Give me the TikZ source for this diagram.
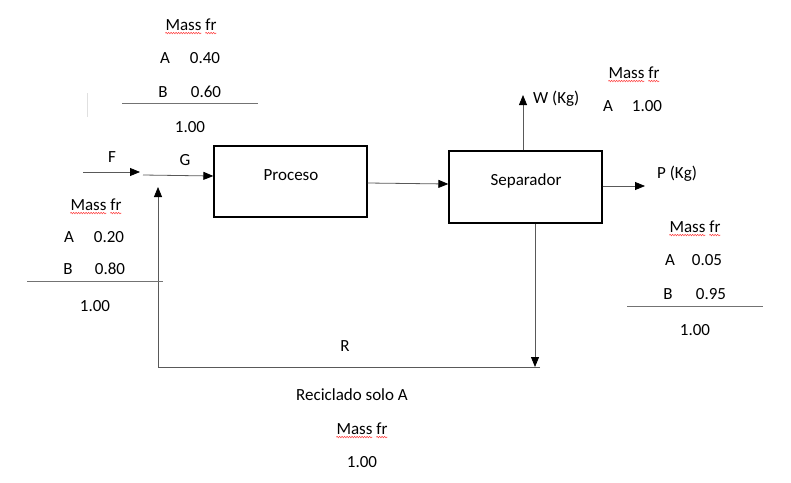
\documentclass[tikz,border=0pt]{standalone}
\usepackage{fontspec}
\setmainfont{Carlito}
\usetikzlibrary{arrows.meta,decorations.pathmorphing}
\begin{document}
\begin{tikzpicture}[x=1pt,y=-1pt,
 txt/.style={inner sep=0pt,font=\fontsize{17}{20}\selectfont,text=black},
 unitbox/.style={draw=black,line width=1.3pt,inner sep=0pt},
 flow/.style={draw=black!65,line width=0.8pt,-{Triangle[length=10pt,width=8pt,color=black]}},
 plain/.style={draw=black!65,line width=0.8pt},
 rulel/.style={draw=black!55,line width=0.7pt},
 spell/.style={draw=red!80,line width=0.5pt,decorate,decoration={snake,amplitude=0.7pt,segment length=2.5pt}}]
\useasboundingbox (0,0) rectangle (791,482);
% units
\node[unitbox,minimum width=153pt,minimum height=71pt] (proc) at (290.5,181.5) {};
\node[txt] (proct) at (291,175) {Proceso};
\node[unitbox,minimum width=153pt,minimum height=72pt] (sep) at (525.5,187) {};
\node[txt] (sept) at (526,181) {Separador};
% coordinates
\coordinate (fs) at (83,172);
\coordinate (fe) at (140,172);
\coordinate (gs) at (143,175);
\coordinate (wt) at (523,95);
\coordinate (pt) at (645,186);
\coordinate (rb) at (535,367);
\coordinate (rr) at (540,367);
\coordinate (rl) at (158,367);
\coordinate (rt) at (158,187);
% connectors
\draw[flow] ([yshift=-1.5pt]proc.east) -- ([yshift=3pt]sep.west);
\draw[flow] ([xshift=-2.5pt]sep.north) -- (wt);
\draw[flow] ([yshift=1pt]sep.east) -- (pt);
\draw[flow] (fs) -- (fe);
\draw[flow] (gs) -- ([yshift=5.5pt]proc.west);
\draw[flow] ([xshift=9.5pt]sep.south) -- (rb);
\draw[plain] (rr) -- (rl);
\draw[flow] (rl) -- (rt);
% stream labels
\node[txt] (lf) at (112,157) {F};
\node[txt] (lg) at (185,160) {G};
\node[txt,anchor=west] (lw) at (533,99) {W (Kg)};
\node[txt] (lp) at (677,174) {P (Kg)};
\node[txt] (lr) at (345,346) {R};
% faint mark
\draw[black!12,line width=0.8pt] (87,93) -- (87,117);
% top block (G)
\node[txt] (m1) at (191,25) {Mass fr};
\node[txt] (a1) at (165,58) {A};
\node[txt] (a1v) at (205,58) {0.40};
\node[txt] (b1) at (163,92) {B};
\node[txt] (b1v) at (206,92) {0.60};
\draw[rulel] (122,103) -- (258,103);
\node[txt] (t1) at (190,127) {1.00};
% left block (F)
\node[txt] (m2) at (96,205) {Mass fr};
\node[txt] (a2) at (69,237) {A};
\node[txt] (a2v) at (109,237) {0.20};
\node[txt] (b2) at (68,269) {B};
\node[txt] (b2v) at (110,269) {0.80};
\draw[rulel] (27,281) -- (163,281);
\node[txt] (t2) at (95,306) {1.00};
% W block
\node[txt] (m3) at (634,73) {Mass fr};
\node[txt] (a3) at (608,106) {A};
\node[txt] (a3v) at (647,106) {1.00};
% P block
\node[txt] (m4) at (695,227) {Mass fr};
\node[txt] (a4) at (670,260) {A};
\node[txt] (a4v) at (707,260) {0.05};
\node[txt] (b4) at (668,294) {B};
\node[txt] (b4v) at (711,294) {0.95};
\draw[rulel] (627,306) -- (763,306);
\node[txt] (t4) at (695,330) {1.00};
% R block
\node[txt] (rc) at (352,395) {Reciclado solo A};
\node[txt] (m5) at (362,429) {Mass fr};
\node[txt] (t5) at (362,462) {1.00};
% spell-check underlines
\foreach \m in {m1,m2,m3,m4,m5}{
  \draw[spell] ([yshift=-2pt]\m.south west) -- ([xshift=36pt,yshift=-2pt]\m.south west);
  \draw[spell] ([xshift=40pt,yshift=-2pt]\m.south west) -- ([xshift=51pt,yshift=-2pt]\m.south west);
}
\end{tikzpicture}
\end{document}
